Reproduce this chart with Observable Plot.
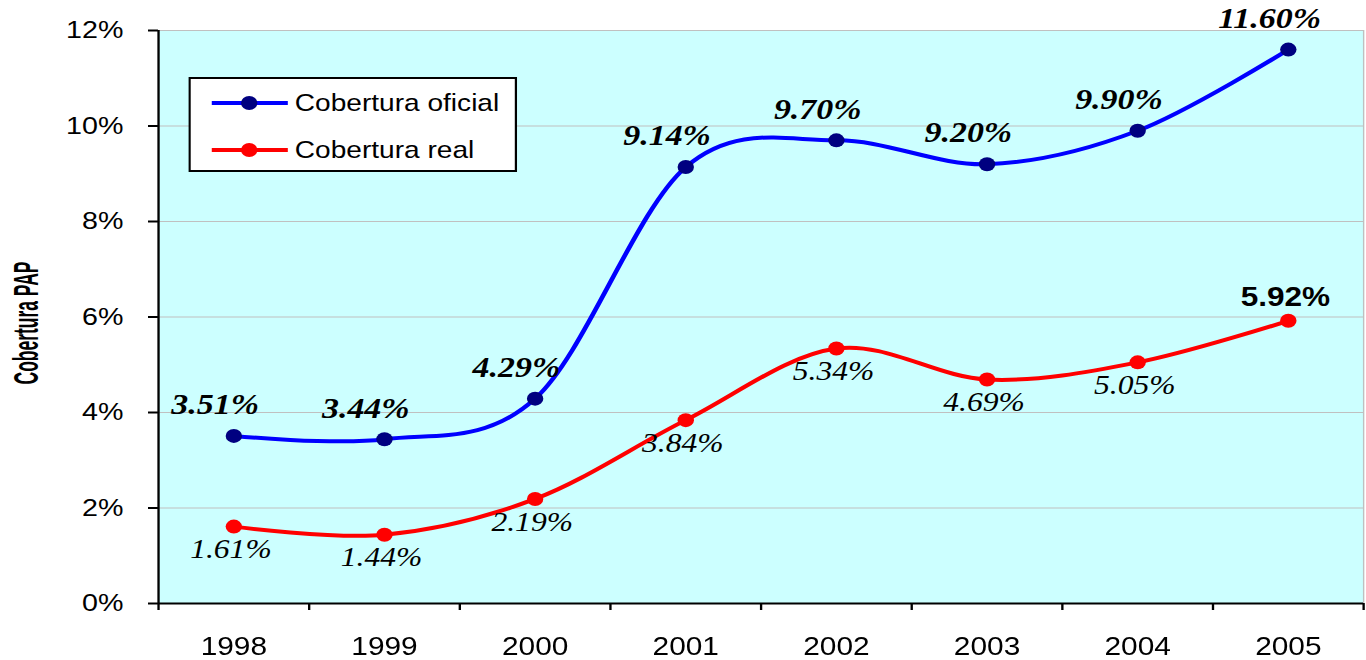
<!DOCTYPE html>
<html><head><meta charset="utf-8">
<script src="https://cdn.jsdelivr.net/npm/d3@7"></script>
<script src="https://cdn.jsdelivr.net/npm/@observablehq/plot@0.6"></script>
<style>
html,body{margin:0;padding:0;background:#fff;overflow:hidden}
#wrap{position:relative;width:1168px;height:660px;transform:scaleX(1.17);transform-origin:0 0}
#legend{position:absolute;left:161px;top:77px}
</style></head><body><div id="wrap"></div>
<script>
const years = [1998, 1999, 2000, 2001, 2002, 2003, 2004, 2005];
const oficial = [3.51, 3.44, 4.29, 9.14, 9.70, 9.20, 9.90, 11.60];
const real = [1.61, 1.44, 2.19, 3.84, 5.34, 4.69, 5.05, 5.92];
const yTicks = [0, 2, 4, 6, 8, 10, 12];
const seriesNames = ["Cobertura oficial", "Cobertura real"];
const yTitle = "Cobertura PAP";

const BLUE = "#0000FF", NAVY = "#000080", RED = "#FF0000", BG = "#CCFFFF", GRID = "#C0C0C0";
const sans = "'Liberation Sans', Arial, sans-serif";
const serif = "'Liberation Serif', 'Times New Roman', serif";

const dOf = years.map((year, i) => ({year, value: oficial[i]}));
const dRe = years.map((year, i) => ({year, value: real[i]}));
const lastYear = years[years.length - 1];
const bounds = [years[0] - 0.5, ...years.map(y => y + 0.5)];
const fmt = d => d.value.toFixed(2) + "%";

const chart = Plot.plot({
  width: 1168,
  height: 660,
  marginLeft: 135,
  marginRight: 3,
  marginTop: 30,
  marginBottom: 57,
  style: {fontFamily: sans, fontSize: "24px", background: "white", color: "black", overflow: "visible"},
  x: {type: "linear", domain: [bounds[0], bounds[bounds.length - 1]]},
  y: {domain: [0, 12]},
  marks: [
    Plot.frame({fill: BG, stroke: "none"}),
    Plot.ruleY(yTicks.filter(t => t > 0), {stroke: GRID, strokeWidth: 1.2}),
    Plot.ruleX([bounds[bounds.length - 1]], {stroke: GRID, strokeWidth: 1.2}),
    Plot.axisY({ticks: yTicks, tickFormat: d => d + "%", tickSize: 8.5, tickPadding: 21.5, fontSize: 24.5, stroke: "black", strokeWidth: 2, label: null}),
    Plot.axisX({ticks: bounds, tickFormat: () => "", tickSize: 7, stroke: "black", strokeWidth: 2, label: null}),
    Plot.axisX({ticks: years, tickFormat: d => String(d), tickSize: 0, tickPadding: 33, fontSize: 25.5, label: null}),
    Plot.ruleX([bounds[0]], {stroke: "black", strokeWidth: 2}),
    Plot.ruleY([0], {stroke: "black", strokeWidth: 2}),
    Plot.text([yTitle], {frameAnchor: "left", text: d => d, rotate: -90, textAnchor: "middle", dx: -113, dy: 6, fontSize: 30, fontWeight: "bold", fontFamily: sans, fill: "black", className: "ytitle"}),
    Plot.line(dOf, {x: "year", y: "value", stroke: BLUE, strokeWidth: 4, curve: "cardinal"}),
    Plot.line(dRe, {x: "year", y: "value", stroke: RED, strokeWidth: 4, curve: "cardinal"}),
    Plot.dot(dOf, {x: "year", y: "value", r: 7, fill: NAVY, stroke: "none"}),
    Plot.dot(dRe, {x: "year", y: "value", r: 7, fill: RED, stroke: "none"}),
    Plot.text(dOf, {x: "year", y: "value", text: fmt, dx: -16, dy: -31, lineAnchor: "middle", fontSize: 29, fontWeight: "bold", fontStyle: "italic", fontFamily: serif, fill: "black"}),
    Plot.text(dRe.filter(d => d.year !== lastYear), {x: "year", y: "value", text: fmt, dx: -2.5, dy: 23, lineAnchor: "middle", fontSize: 27, fontStyle: "italic", fontFamily: serif, fill: "black"}),
    Plot.text(dRe.filter(d => d.year === lastYear), {x: "year", y: "value", text: fmt, dx: -2.5, dy: -23, lineAnchor: "middle", fontSize: 27, fontWeight: "bold", fontFamily: sans, fill: "black"})
  ]
});

// condense the axis title like the original (narrow bold face)
d3.select(chart).selectAll("g.ytitle text").attr("textLength", 123).attr("lengthAdjust", "spacingAndGlyphs");

const wrap = document.getElementById("wrap");
wrap.appendChild(chart);

// legend inside plot area
const lg = d3.select(wrap).append("svg").attr("id", "legend").attr("width", 281).attr("height", 95);
lg.append("rect").attr("x", 1).attr("y", 1).attr("width", 279).attr("height", 93).attr("fill", "white").attr("stroke", "black").attr("stroke-width", 2);
const items = [
  {name: seriesNames[0], line: BLUE, dot: NAVY, y: 26},
  {name: seriesNames[1], line: RED, dot: RED, y: 73}
];
const g = lg.selectAll("g").data(items).join("g").attr("transform", d => `translate(0,${d.y})`);
g.append("line").attr("x1", 20).attr("x2", 85).attr("stroke", d => d.line).attr("stroke-width", 4);
g.append("circle").attr("cx", 52).attr("r", 7).attr("fill", d => d.dot);
g.append("text").attr("x", 91).attr("dy", "0.35em").attr("font-family", sans).attr("font-size", 24).attr("fill", "black").text(d => d.name);
</script>
</body></html>
